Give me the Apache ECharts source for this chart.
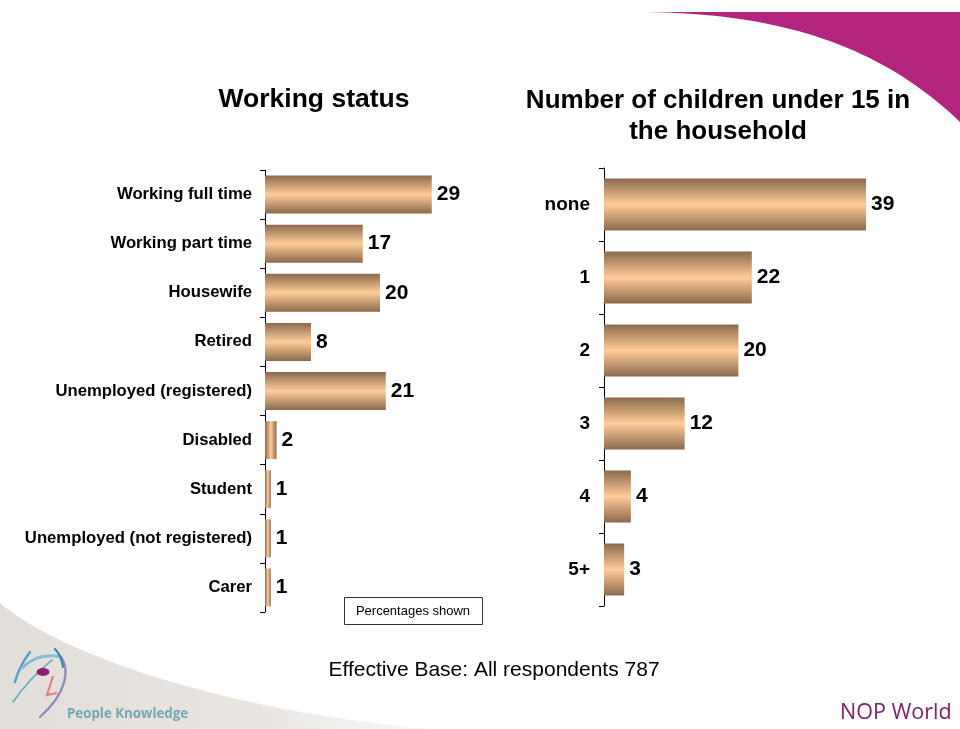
<!DOCTYPE html>
<html>
<head>
<meta charset="utf-8">
<script src="https://cdn.jsdelivr.net/npm/echarts@6/dist/echarts.min.js"></script>
<style>
  html, body { margin: 0; padding: 0; background: #fff; }
  #chart { width: 960px; height: 729px; }
</style>
</head>
<body>
<div id="chart"></div>
<script>
// Working status (percent)
const workCategories = [
  'Working full time', 'Working part time', 'Housewife', 'Retired',
  'Unemployed (registered)', 'Disabled', 'Student',
  'Unemployed (not registered)', 'Carer'
];
const workValues = [29, 17, 20, 8, 21, 2, 1, 1, 1];

// Number of children under 15 in the household (percent)
const childCategories = ['none', '1', '2', '3', '4', '5+'];
const childValues = [39, 22, 20, 12, 4, 3];

const FONT = '"Liberation Sans", Arial, sans-serif';
const EDGE = '#8c6a4c';
const MID = '#ffcc99';

// Tube-like shading: across the short side of each bar
function shade(horizontal) {
  return {
    type: 'linear',
    x: 0, y: 0, x2: horizontal ? 1 : 0, y2: horizontal ? 0 : 1,
    colorStops: [
      { offset: 0, color: EDGE },
      { offset: 0.5, color: MID },
      { offset: 1, color: EDGE }
    ]
  };
}

function barItems(values, plotWidth, axisMax, barWidth) {
  return values.map(function (v) {
    const lengthPx = v * plotWidth / axisMax;
    return { value: v, itemStyle: { color: shade(lengthPx / barWidth < 0.35) } };
  });
}

// Sample a cubic bezier into polygon points (for decorative sweeps)
function cubic(p0, p1, p2, p3, n) {
  const pts = [];
  for (let i = 0; i <= n; i++) {
    const t = i / n, u = 1 - t;
    pts.push([
      u * u * u * p0[0] + 3 * u * u * t * p1[0] + 3 * u * t * t * p2[0] + t * t * t * p3[0],
      u * u * u * p0[1] + 3 * u * u * t * p1[1] + 3 * u * t * t * p2[1] + t * t * t * p3[1]
    ]);
  }
  return pts;
}

function stroke(x1, y1, c1x, c1y, c2x, c2y, x2, y2, color, w) {
  return {
    type: 'bezierCurve',
    shape: { x1: x1, y1: y1, cpx1: c1x, cpy1: c1y, cpx2: c2x, cpy2: c2y, x2: x2, y2: y2 },
    style: { fill: null, stroke: color, lineWidth: w, lineCap: 'round' }
  };
}

const L = { left: 265, top: 170, width: 230, height: 442, max: 40, bar: 38 };
const R = { left: 604, top: 168, width: 336, height: 438, max: 50, bar: 52 };

const chart = echarts.init(document.getElementById('chart'), null, { renderer: 'canvas' });

function catAxis(gridIndex, cats, fontSize, margin) {
  return {
    type: 'category', gridIndex: gridIndex, data: cats, inverse: true,
    axisLine: { show: true, lineStyle: { color: '#000', width: 1 } },
    axisTick: { show: true, length: 5, lineStyle: { color: '#000' } },
    axisLabel: { color: '#000', fontFamily: FONT, fontWeight: 'bold', fontSize: fontSize, margin: margin },
    splitLine: { show: false }
  };
}
function valAxis(gridIndex, max) {
  return {
    type: 'value', gridIndex: gridIndex, min: 0, max: max,
    show: false, splitLine: { show: false }
  };
}
function labelStyle() {
  return {
    show: true, position: 'right', distance: 5,
    color: '#000', fontFamily: FONT, fontWeight: 'bold', fontSize: 21
  };
}

const greySweep = cubic([0, 603], [60, 655], [230, 712], [430, 729], 40).concat([[0, 729]]);
const pinkSweep = cubic([648, 12], [780, 14], [880, 45], [960, 122], 40).concat([[960, 12]]);

chart.setOption({
  backgroundColor: '#ffffff',
  animation: false,
  grid: [
    { left: L.left, top: L.top, width: L.width, height: L.height },
    { left: R.left, top: R.top, width: R.width, height: R.height }
  ],
  xAxis: [valAxis(0, L.max), valAxis(1, R.max)],
  yAxis: [catAxis(0, workCategories, 16.7, 13), catAxis(1, childCategories, 19, 14)],
  series: [
    {
      type: 'bar', xAxisIndex: 0, yAxisIndex: 0, barWidth: L.bar,
      data: barItems(workValues, L.width, L.max, L.bar),
      label: labelStyle(), z: 3
    },
    {
      type: 'bar', xAxisIndex: 1, yAxisIndex: 1, barWidth: R.bar,
      data: barItems(childValues, R.width, R.max, R.bar),
      label: labelStyle(), z: 3
    }
  ],
  graphic: [
    // bottom-left grey sweep
    {
      type: 'polygon', z: 0,
      shape: { points: greySweep },
      style: {
        fill: {
          type: 'linear', x: 0, y: 0, x2: 1, y2: 0,
          colorStops: [
            { offset: 0, color: '#e2ded9' },
            { offset: 0.6, color: '#e9e6e2' },
            { offset: 1, color: '#fbfaf9' }
          ]
        }
      }
    },
    // top-right magenta sweep
    {
      type: 'polygon', z: 0,
      shape: { points: pinkSweep },
      style: { fill: '#b3247f' }
    },
    // face logo
    {
      type: 'group', z: 1,
      children: [
        stroke(30, 652, 24, 660, 18, 670, 15, 682, '#4f9fcf', 2.4),
        stroke(22, 668, 33, 657, 47, 654, 61, 657, '#86bdd9', 3),
        stroke(13, 702, 22, 689, 36, 673, 52, 660, '#5aa7c6', 1.6),
        stroke(60, 656, 70, 668, 68, 692, 40, 717, '#8f89c2', 2.2),
        stroke(55, 649, 59, 653, 62, 659, 63, 667, '#3d86b8', 2.2),
        {
          type: 'circle', shape: { cx: 0, cy: 0, r: 6.5 }, x: 43, y: 672, scaleY: 0.6,
          style: { fill: '#8b1f72' }
        },
        {
          type: 'polyline', shape: { points: [[53, 676], [47, 695], [57, 693]] },
          style: { fill: null, stroke: '#e47f86', lineWidth: 2.2 }
        }
      ]
    },
    {
      type: 'text', z: 2, left: 67, top: 708,
      style: { text: 'People Knowledge', fill: '#71a9b5', font: 'bold 13.3px "Open Sans", sans-serif' }
    },
    {
      type: 'text', z: 2, left: 840, top: 702,
      style: { text: 'NOP World', fill: '#84206e', font: '21.5px "Open Sans", sans-serif' }
    },
    // titles
    {
      type: 'text', z: 2, x: 314, y: 100,
      style: { text: 'Working status', fill: '#000', font: 'bold 26.5px ' + FONT, align: 'center', verticalAlign: 'middle' }
    },
    {
      type: 'text', z: 2, x: 718, y: 116,
      style: {
        text: 'Number of children under 15 in\nthe household', fill: '#000',
        font: 'bold 26px ' + FONT, lineHeight: 31, align: 'center', verticalAlign: 'middle'
      }
    },
    // note box
    {
      type: 'rect', z: 2, shape: { x: 344.5, y: 597.5, width: 138, height: 27 },
      style: { fill: '#fff', stroke: '#333', lineWidth: 1 }
    },
    {
      type: 'text', z: 3, x: 413, y: 611,
      style: { text: 'Percentages shown', fill: '#000', font: '13px ' + FONT, align: 'center', verticalAlign: 'middle' }
    },
    {
      type: 'text', z: 2, x: 494, y: 670,
      style: { text: 'Effective Base: All respondents 787', fill: '#000', font: '21px ' + FONT, align: 'center', verticalAlign: 'middle' }
    }
  ]
});
</script>
</body>
</html>
